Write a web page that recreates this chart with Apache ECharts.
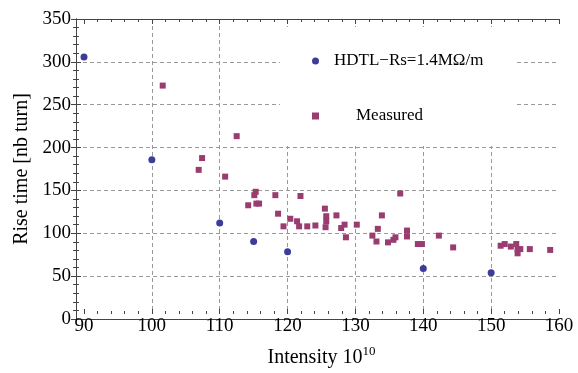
<!DOCTYPE html>
<html>
<head>
<meta charset="utf-8">
<script src="https://cdn.jsdelivr.net/npm/echarts@6/dist/echarts.min.js"></script>
<style>
  html, body { margin: 0; padding: 0; background: #fff; }
  #chart { width: 578px; height: 373px; }
</style>
</head>
<body>
<div id="chart"></div>
<script>
// HDTL model, Rs = 1.4 MOhm/m
const hdtlX = [90, 100, 110, 115, 120, 140, 150];
const hdtlY = [305, 183, 108, 86, 74, 54, 49];

// measured rise times
const measX = [101.6, 112.5, 107.4, 106.9, 110.8, 115.3, 115.1, 118.2, 121.9, 114.2,
  115.4, 115.8, 118.6, 119.4, 120.4, 121.4, 121.7, 122.9, 124.1, 125.5,
  125.7, 125.7, 125.6, 127.2, 128.4, 127.9, 128.6, 130.2, 133.9, 133.3,
  132.5, 133.1, 134.8, 135.6, 135.9, 136.6, 137.6, 137.6, 139.2, 139.8,
  142.3, 144.4, 151.4, 152.0, 152.9, 153.7, 153.9, 154.3, 153.9, 155.7, 158.7];
const measY = [271, 211, 185, 171, 163, 145, 141, 141, 140, 129,
  131, 131, 119, 104, 113, 110, 104, 104, 105, 125,
  116, 110, 103, 117, 106, 102, 91, 106, 117, 101,
  93, 86, 85, 88, 91, 143, 99, 92, 83, 83,
  93, 79, 81, 83, 80, 83, 77, 77, 72, 77, 76];

const xTicks = [90, 160, 10];
const yTicks = [0, 350, 50];

const serif = '"Liberation Serif", "DejaVu Serif", serif';
const frameColor = '#444';
const gridLine = { show: true, showMinLine: false, showMaxLine: false,
  lineStyle: { color: '#999', width: 1, type: [4, 3] } };

const zip = (xs, ys) => xs.map((x, i) => [x, ys[i]]);

const chart = echarts.init(document.getElementById('chart'));

const frameX = (pos) => ({
  gridIndex: 0, type: 'value', position: pos, min: 0, max: 1,
  axisLine: { show: true, onZero: false, lineStyle: { color: frameColor, width: 1 } },
  axisTick: { show: false }, axisLabel: { show: false }, splitLine: { show: false }
});

const option = {
  animation: false,
  backgroundColor: '#fff',
  grid: [
    { left: 76, right: 19, top: 19, bottom: 54 },
    { left: 84, right: 19, top: 19, bottom: 54 }
  ],
  xAxis: [
    frameX('bottom'),
    Object.assign(frameX('top'), { z: 5 }),
    {
      gridIndex: 1, type: 'value', position: 'bottom',
      min: xTicks[0], max: xTicks[1], interval: xTicks[2],
      name: '{a|Intensity 10}{s|10}',
      nameLocation: 'middle', nameGap: 31,
      nameTextStyle: {
        rich: {
          a: { fontFamily: serif, fontSize: 20, color: '#000', lineHeight: 26 },
          s: { fontFamily: serif, fontSize: 13, color: '#000', lineHeight: 13, verticalAlign: 'top' }
        }
      },
      axisLine: { show: false },
      axisTick: { show: true, inside: true, length: 5, lineStyle: { color: frameColor } },
      minorTick: { show: true, splitNumber: 5, length: 3, lineStyle: { color: frameColor } },
      axisLabel: { fontFamily: serif, fontSize: 19, color: '#000', margin: 3 },
      splitLine: gridLine
    },
    {
      gridIndex: 1, type: 'value', position: 'top', z: 5,
      min: xTicks[0], max: xTicks[1], interval: xTicks[2],
      axisLine: { show: false },
      axisTick: { show: true, inside: true, length: 5, lineStyle: { color: frameColor } },
      minorTick: { show: true, splitNumber: 5, length: 3, lineStyle: { color: frameColor } },
      axisLabel: { show: false }, splitLine: { show: false }
    }
  ],
  yAxis: [
    {
      gridIndex: 0, type: 'value', position: 'left',
      min: yTicks[0], max: yTicks[1], interval: yTicks[2],
      name: 'Rise time [nb turn]', nameLocation: 'middle', nameGap: 44,
      nameTextStyle: { fontFamily: serif, fontSize: 20, color: '#000' },
      axisLine: { show: true, lineStyle: { color: frameColor, width: 1 } },
      axisTick: { show: true, inside: true, length: 5, lineStyle: { color: frameColor } },
      minorTick: { show: true, splitNumber: 5, length: 3, lineStyle: { color: frameColor } },
      axisLabel: { fontFamily: serif, fontSize: 19, color: '#000', margin: 5 },
      splitLine: gridLine
    },
    {
      gridIndex: 0, type: 'value', position: 'right',
      min: yTicks[0], max: yTicks[1], interval: yTicks[2],
      axisLine: { show: true, lineStyle: { color: frameColor, width: 1 } },
      axisTick: { show: true, inside: true, length: 5, lineStyle: { color: frameColor } },
      minorTick: { show: true, splitNumber: 5, length: 3, lineStyle: { color: frameColor } },
      axisLabel: { show: false }, splitLine: { show: false }
    },
    {
      gridIndex: 1, type: 'value', show: false,
      min: yTicks[0], max: yTicks[1], interval: yTicks[2]
    }
  ],
  legend: {
    orient: 'vertical',
    left: 280, top: 27,
    padding: [24, 33, 20, 32],
    backgroundColor: '#fff',
    itemWidth: 7, itemHeight: 7,
    itemGap: 35,
    data: [
      { name: 'HDTL\u2212Rs=1.4M\u03A9/m', icon: 'circle' },
      { name: 'Measured', icon: 'rect' }
    ],
    formatter: (name) => name === 'Measured' ? '{m|' + name + '}' : '{h|' + name + '}',
    textStyle: {
      fontFamily: serif, fontSize: 17, color: '#000', lineHeight: 20,
      rich: {
        h: { fontFamily: serif, fontSize: 17, color: '#000', padding: [0, 0, 0, 10] },
        m: { fontFamily: serif, fontSize: 17, color: '#000', padding: [0, 0, 0, 32] }
      }
    }
  },
  series: [
    {
      name: 'HDTL\u2212Rs=1.4M\u03A9/m', type: 'scatter',
      xAxisIndex: 2, yAxisIndex: 2,
      symbol: 'circle', symbolSize: 7,
      itemStyle: { color: '#3d3d99', opacity: 1 },
      data: zip(hdtlX, hdtlY)
    },
    {
      name: 'Measured', type: 'scatter',
      xAxisIndex: 2, yAxisIndex: 2,
      symbol: 'rect', symbolSize: 6,
      itemStyle: { color: '#993d71', opacity: 1 },
      data: zip(measX, measY)
    }
  ]
};

chart.setOption(option);
</script>
</body>
</html>
